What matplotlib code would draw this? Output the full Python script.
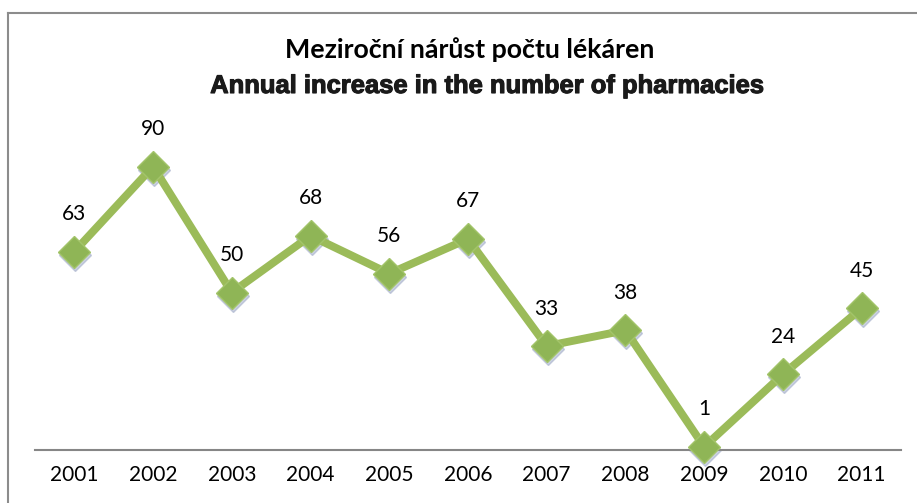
import matplotlib.pyplot as plt
import matplotlib.transforms as mtransforms
import matplotlib.patheffects as pe
from matplotlib.lines import Line2D

# data
years = ["2001", "2002", "2003", "2004", "2005", "2006",
         "2007", "2008", "2009", "2010", "2011"]
values = [63, 90, 50, 68, 56, 67, 33, 38, 1, 24, 45]

title_cz = "Meziroční nárůst počtu lékáren"
title_en = "Annual increase in the number of pharmacies"

green = "#9BBB59"
marker_green = "#8FB556"

fig = plt.figure(figsize=(9.17, 5.03), dpi=100)
ax = fig.add_axes([35 / 917, 1 - 450 / 503, 866 / 917, 315 / 503])

x = list(range(len(years)))

# shadow under markers
shadow = mtransforms.offset_copy(ax.transData, fig=fig, x=1, y=-3, units="dots")
ax.plot(x, values, linestyle="none", marker="D", markersize=16,
        color="#9aa6c4", alpha=0.5, transform=shadow, zorder=2,
        clip_on=False)

ax.plot(x, values, color=green, linewidth=5.7, zorder=3, clip_on=False,
        solid_joinstyle="miter")
ax.plot(x, values, linestyle="none", marker="D", markersize=16,
        markerfacecolor=marker_green, markeredgecolor="#a3c46a",
        markeredgewidth=1, zorder=4, clip_on=False)

for xi, v in zip(x, values):
    ax.annotate(str(v), (xi, v), xytext=(0, 27), textcoords="offset points",
                ha="center", va="center", fontsize=15, family="Lato",
                color="black")

ax.set_xlim(-0.5, len(years) - 0.5)
ax.set_ylim(0, 100)
ax.set_xticks(x)
ax.set_xticklabels(years, fontsize=15, family="Lato")
ax.tick_params(axis="x", length=0, pad=11)
ax.set_yticks([])
for s in ["left", "right", "top"]:
    ax.spines[s].set_visible(False)
ax.spines["bottom"].set_color("#868686")
ax.spines["bottom"].set_linewidth(1.5)

# titles
fig.text(470 / 917, 1 - 50 / 503, title_cz, ha="center", va="center",
         fontsize=19.3, fontweight="bold", family="Lato")
fig.text(487 / 917, 1 - 86 / 503, title_en, ha="center", va="center",
         fontsize=18.4, fontweight="bold", family="Liberation Sans",
         color="#1a1a1a",
         path_effects=[pe.withStroke(linewidth=0.8, foreground="#1a1a1a")])

# chart frame (cropped)
fig.add_artist(Line2D([8 / 917, 8 / 917], [0, 1 - 13 / 503],
                      color="#8c8c8c", linewidth=1.5))
fig.add_artist(Line2D([8 / 917, 1], [1 - 13 / 503, 1 - 13 / 503],
                      color="#8c8c8c", linewidth=1.5))

fig.savefig("out.png", dpi=100)
